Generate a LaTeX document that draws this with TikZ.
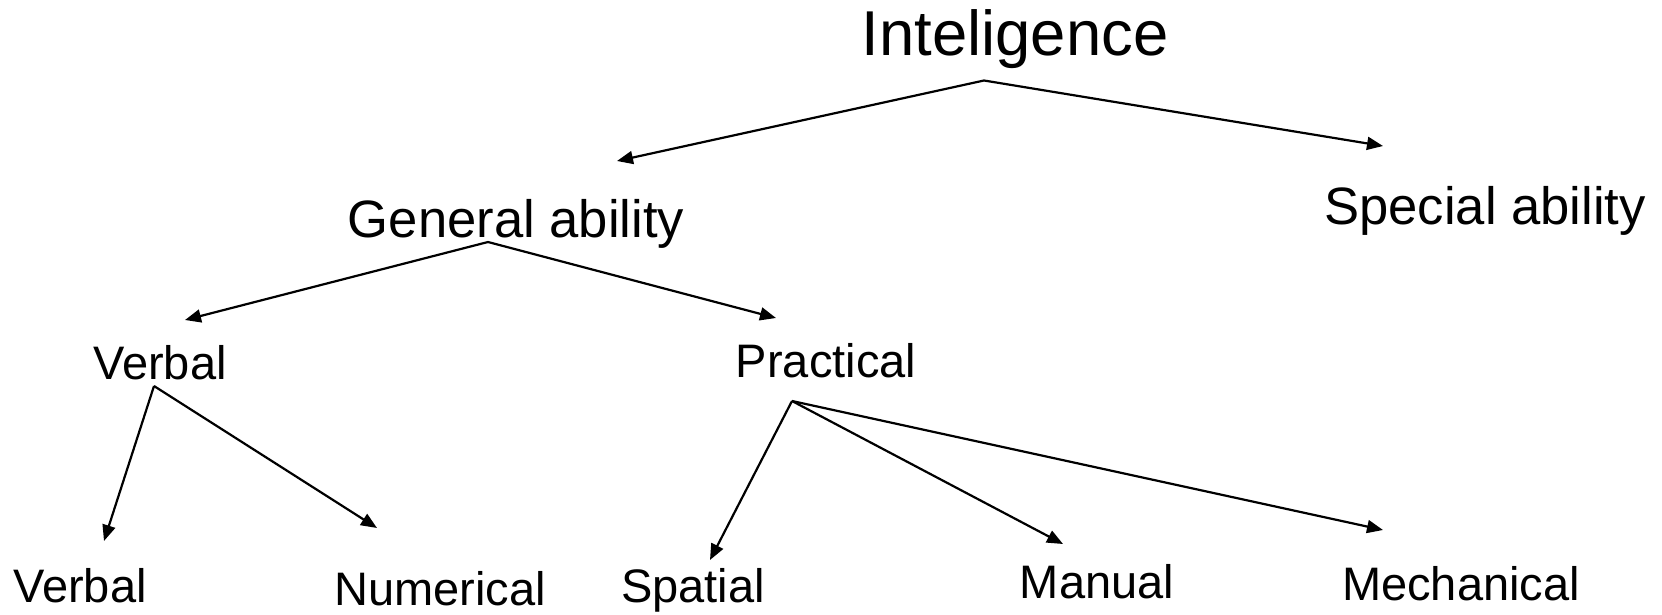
\documentclass[tikz,border=0pt]{standalone}
\usepackage{fontspec}
\setmainfont{Liberation Sans}
\usetikzlibrary{arrows.meta}

\begin{document}
\begin{tikzpicture}[
  x=0.5pt, y=-0.5pt,
  lbl/.style={inner sep=0pt, anchor=center},
  top/.style ={lbl, font=\fontsize{31.7}{36}\selectfont},
  mid/.style ={lbl, font=\fontsize{26.3}{30}\selectfont},
  low/.style ={lbl, font=\fontsize{23.5}{27}\selectfont},
  link/.style={line width=1.1pt, -{Triangle[length=8pt, width=6.5pt]}}
]
  \useasboundingbox (0,0) rectangle (1662,615);

  % levels
  \node[top] (intel) at (1015,39) {Inteligence};
  \node[mid] (general) at (516,224) {General ability};
  \node[mid] (special) at (1485,211) {Special ability};
  \node[low] (verbal) at (160,363) {Verbal};
  \node[low] (practical) at (826,361) {Practical};
  \node[low] (verbalB) at (80,586) {Verbal};
  \node[low] (numerical) at (440,589) {Numerical};
  \node[low] (spatial) at (693,590) {Spatial};
  \node[low] (manual) at (1097,582) {Manual};
  \node[low] (mech) at (1461,584) {Mechanical};

  % connectors
  \draw[link] ([shift={(-31,41.5)}]intel.center) -- ([shift={(101,-63)}]general.center);
  \draw[link] ([shift={(-31,41.5)}]intel.center) -- ([shift={(-102,-65)}]special.center);
  \draw[link] ([shift={(-28,18)}]general.center) -- ([shift={(25,-43)}]verbal.center);
  \draw[link] ([shift={(-28,18)}]general.center) -- ([shift={(-50,-43)}]practical.center);
  \draw[link] ([shift={(-6,23)}]verbal.center) -- ([shift={(24,-45)}]verbalB.center);
  \draw[link] ([shift={(-6,23)}]verbal.center) -- ([shift={(-63,-61)}]numerical.center);
  \draw[link] ([shift={(-34,40)}]practical.center) -- ([shift={(17,-30)}]spatial.center);
  \draw[link] ([shift={(-34,40)}]practical.center) -- ([shift={(-34,-38)}]manual.center);
  \draw[link] ([shift={(-34,40)}]practical.center) -- ([shift={(-78,-54)}]mech.center);
\end{tikzpicture}
\end{document}
